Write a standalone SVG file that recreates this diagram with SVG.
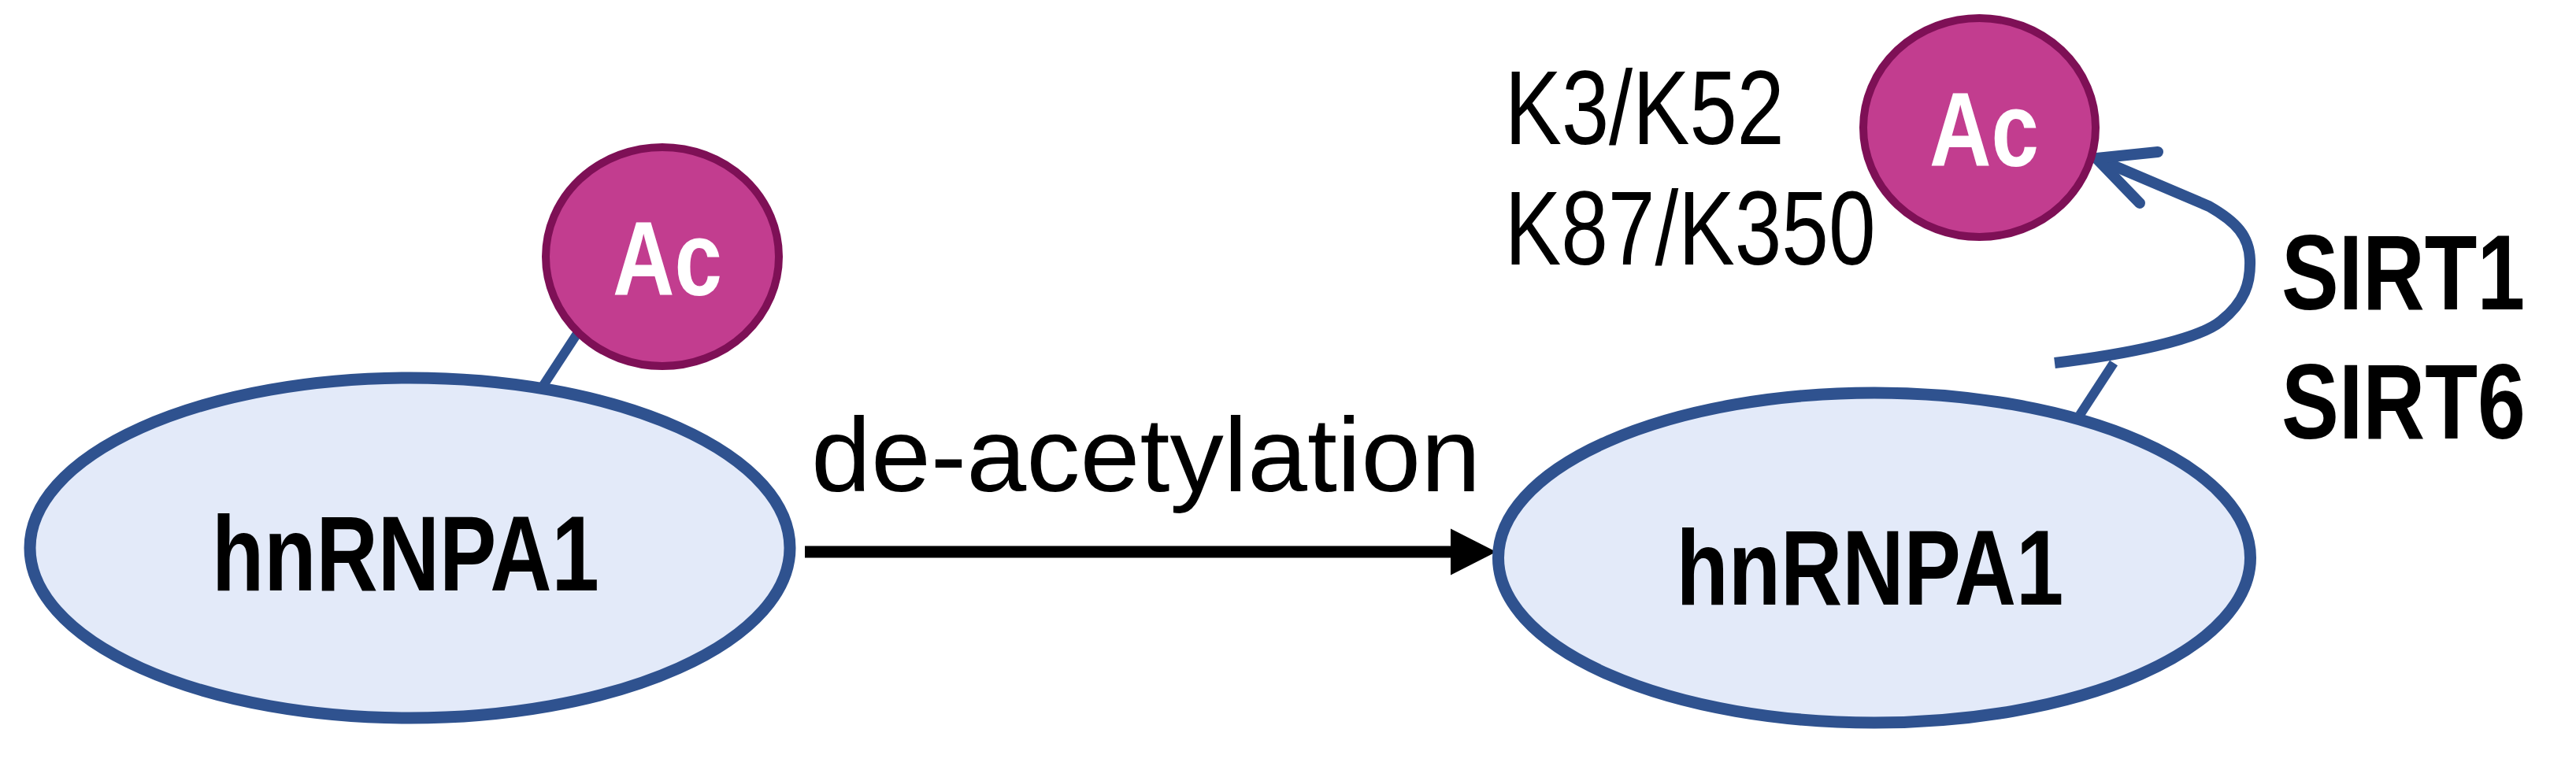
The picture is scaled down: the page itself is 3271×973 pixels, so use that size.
<svg xmlns="http://www.w3.org/2000/svg" width="3271" height="973" viewBox="0 0 3271 973">
  <style>
    .prot { fill: #E3EAF9; stroke: #2F528F; stroke-width: 15; }
    .ac { fill: #C23D8F; stroke: #7E1056; stroke-width: 10; }
    .lbl { font-family: "Liberation Sans", Arial, sans-serif; font-size: 135px; fill: #000; }
    .reg { font-size: 134px; }
    .b { font-weight: bold; }
    .actxt { font-family: "Liberation Sans", Arial, sans-serif; font-size: 134px; font-weight: bold; fill: #FFFFFF; }
    .link { fill: none; stroke: #2F528F; stroke-width: 12; }
    .curve { fill: none; stroke: #2F528F; stroke-width: 14; }
  </style>
  <defs>
    <marker id="arrowBlack" markerUnits="userSpaceOnUse" markerWidth="60" markerHeight="62" refX="8" refY="30" orient="auto" viewBox="0 0 60 62">
      <path d="M0,0.5 L58,30 L0,59.5 Z" fill="#000"/>
    </marker>
  </defs>
  <rect width="3271" height="973" fill="#FFFFFF"/>

  <g id="connectors">
    <line class="link" x1="687" y1="494" x2="736" y2="419"/>
    <line class="link" x1="2641" y1="527" x2="2684" y2="461"/>
    <path d="M1022,701 L1850,701" stroke="#000" stroke-width="15" fill="none" marker-end="url(#arrowBlack)"/>
    <path class="curve" stroke-linecap="butt" d="M2609,461 C2700,450 2790,432 2820,408 C2850,384 2858,360 2857,330 C2856,300 2840,282 2805,262 L2664,202"/>
    <path class="curve" stroke-linecap="round" stroke-linejoin="miter" d="M2740,193 L2662,201 L2717,258"/>
  </g>

  <g id="node-hnRNPA1-left">
    <ellipse class="prot" cx="520.5" cy="696" rx="482.5" ry="216"/>
    <text class="lbl b" transform="translate(269,750) scale(0.803,1)" x="0" y="0">hnRNPA1</text>
  </g>

  <g id="node-ac-left">
    <ellipse class="ac" cx="841" cy="326" rx="148" ry="139"/>
    <text class="actxt" transform="translate(778,375) scale(0.811,1)" x="0" y="0">Ac</text>
  </g>

  <g id="node-hnRNPA1-right">
    <ellipse class="prot" cx="2380" cy="708.5" rx="477.5" ry="209.5"/>
    <text class="lbl b" transform="translate(2128.5,768) scale(0.803,1)" x="0" y="0">hnRNPA1</text>
  </g>

  <g id="node-ac-right">
    <ellipse class="ac" cx="2513.5" cy="162" rx="147.5" ry="139"/>
    <text class="actxt" transform="translate(2450,210.5) scale(0.811,1)" x="0" y="0">Ac</text>
  </g>

  <g id="labels">
    <text class="lbl reg" transform="translate(1030,624) scale(1.019,1)" x="0" y="0">de-acetylation</text>
    <text class="lbl reg" transform="translate(1910.7,182.5) scale(0.808,1)" x="0" y="0">K3/K52</text>
    <text class="lbl reg" transform="translate(1910.7,336) scale(0.80,1)" x="0" y="0">K87/K350</text>
    <text class="lbl b" transform="translate(2897,392.7) scale(0.808,1)" x="0" y="0">SIRT1</text>
    <text class="lbl b" transform="translate(2897,556.7) scale(0.81,1)" x="0" y="0">SIRT6</text>
  </g>
</svg>
